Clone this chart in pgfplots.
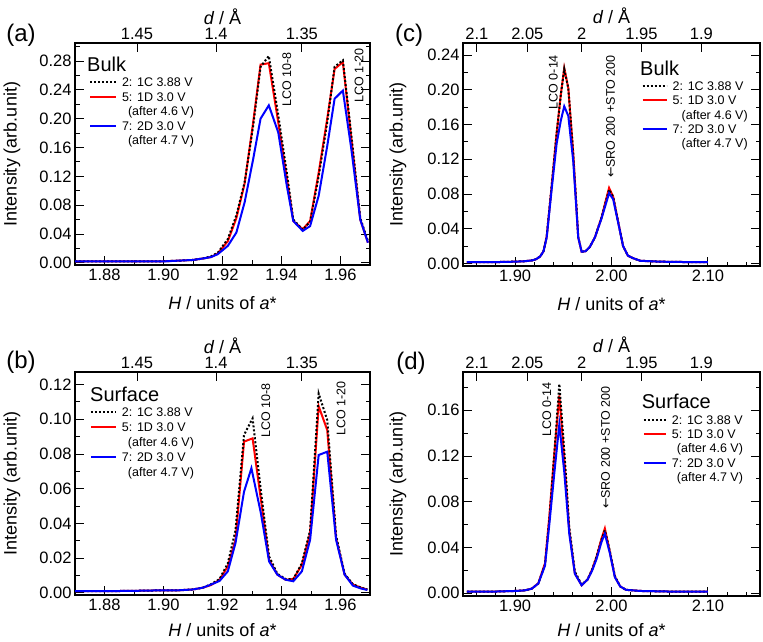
\documentclass[border=0pt]{standalone}
\usepackage{pgfplots}
\pgfplotsset{compat=1.18}
\usepackage{fontspec}
\setmainfont{Liberation Sans}
\newfontfamily\dejavu{DejaVu Sans}
\definecolor{myred}{RGB}{255,0,0}
\definecolor{myblue}{RGB}{0,0,255}
\tikzset{
  dotst/.style={black, line width=2pt, dash pattern=on 2pt off 2pt},
  redst/.style={myred, line width=2pt},
  bluest/.style={myblue, line width=2pt},
  annot/.style={rotate=90, font=\fontsize{12.5}{12.5}\selectfont, inner sep=0pt},
}
\pgfplotsset{
  base/.style={
    scale only axis, anchor=south west,
    axis line style={line width=1.1pt},
    tick align=inside,
    major tick length=9pt, minor tick length=4.5pt,
    every tick/.append style={black, line width=0.9pt},
    tick label style={font=\fontsize{16.5}{16.5}\selectfont},
    /pgf/number format/assume math mode=true,
    label style={font=\fontsize{18}{18}\selectfont},
  },
  panel/.style={
    base,
    xtick pos=left, ytick pos=both,
    xticklabel style={/pgf/number format/.cd, fixed, fixed zerofill, precision=2},
    yticklabel style={/pgf/number format/.cd, fixed, fixed zerofill, precision=2},
    xlabel={\textit{H} / units of \textit{a}*},
    ylabel={Intensity (arb.unit)},
    xlabel style={at={(axis description cs:0.5,-0.17)}, anchor=center},
    legend cell align=left,
    legend style={draw=none, fill=none, anchor=north west, inner sep=0pt, outer sep=0pt,
      column sep=5pt, font=\fontsize{12.5}{12.5}\selectfont,
      nodes={inner sep=0pt, text height=9pt, text depth=3pt}},
  },
  topax/.style={
    base, axis x line*=top, axis y line=none,
    ymin=0, ymax=1,
    xlabel={\textit{d} / Å},
    xlabel style={at={(axis description cs:0.5,1.12)}, anchor=center},
  },
}
\begin{document}
\begin{tikzpicture}
\path[use as bounding box] (0,0) rectangle (763pt,641pt);

% ---------------- (a) ----------------
\begin{axis}[panel, at={(75pt,376pt)}, width=295pt, height=222pt,
  xmin=1.87, xmax=1.97, ymin=-0.003, ymax=0.305,
  xtick={1.88,1.90,1.92,1.94,1.96}, minor xtick={1.87,1.89,1.91,1.93,1.95,1.97},
  ytick={0,0.04,0.08,0.12,0.16,0.20,0.24,0.28}, minor ytick={0.02,0.06,0.10,0.14,0.18,0.22,0.26,0.30},
  ylabel style={at={(axis description cs:-0.2136,0.5)}, anchor=center},
  legend image code/.code={\draw[#1] (0pt,1.5pt) -- (26pt,1.5pt);},
  legend style={at={(axis description cs:0.0475,0.8446)}, row sep=2.6pt}]
\addplot[redst, forget plot] coordinates {(1.870,0.002) (1.880,0.002) (1.890,0.002) (1.900,0.0022) (1.905,0.003) (1.910,0.004) (1.9133,0.006) (1.9161,0.008) (1.9184,0.013) (1.9218,0.030) (1.9247,0.062) (1.9275,0.110) (1.9304,0.195) (1.9329,0.275) (1.9357,0.277) (1.9389,0.195) (1.9418,0.118) (1.9440,0.058) (1.9472,0.0466) (1.9497,0.058) (1.9526,0.125) (1.9555,0.200) (1.9580,0.269) (1.9608,0.2785) (1.9636,0.175) (1.9667,0.060) (1.9693,0.028)};
\addplot[dotst, forget plot] coordinates {(1.870,0.002) (1.880,0.002) (1.890,0.002) (1.900,0.0022) (1.905,0.003) (1.910,0.004) (1.9133,0.006) (1.9161,0.009) (1.9184,0.014) (1.9218,0.033) (1.9247,0.066) (1.9275,0.112) (1.9304,0.190) (1.9329,0.272) (1.9357,0.287) (1.9389,0.205) (1.9418,0.125) (1.9440,0.060) (1.9472,0.046) (1.9497,0.057) (1.9526,0.120) (1.9555,0.195) (1.9580,0.272) (1.9608,0.281) (1.9636,0.180) (1.9667,0.062) (1.9693,0.030)};
\addplot[bluest, forget plot] coordinates {(1.870,0.002) (1.880,0.002) (1.890,0.002) (1.900,0.002) (1.905,0.003) (1.910,0.004) (1.9133,0.006) (1.9161,0.008) (1.9184,0.012) (1.9218,0.0235) (1.9247,0.042) (1.9275,0.084) (1.9304,0.144) (1.9329,0.200) (1.9357,0.2185) (1.9389,0.181) (1.9418,0.107) (1.9440,0.058) (1.9472,0.0443) (1.9497,0.051) (1.9526,0.093) (1.9555,0.162) (1.9580,0.2277) (1.9608,0.239) (1.9636,0.160) (1.9667,0.060) (1.9693,0.028)};
\addlegendimage{dotst}\addlegendentry{2: 1C 3.88 V}
\addlegendimage{redst}\addlegendentry{5: 1D 3.0 V}
\addlegendimage{empty legend}\addlegendentry{\hspace{6pt}(after 4.6 V)}
\addlegendimage{bluest}\addlegendentry{7: 2D 3.0 V}
\addlegendimage{empty legend}\addlegendentry{\hspace{6pt}(after 4.7 V)}
\node[annot] at (axis cs:1.9418,0.2547) {LCO 10-8};
\node[annot] at (axis cs:1.9663,0.2600) {LCO 1-20};
\end{axis}
\begin{axis}[topax, at={(75pt,376pt)}, width=295pt, height=222pt,
  xmin=1.87, xmax=1.97, xtick={1.8910,1.9178,1.9469}, xticklabels={1.45,1.4,1.35}]
\end{axis}

% ---------------- (c) ----------------
\begin{axis}[panel, at={(463pt,375pt)}, width=297pt, height=223pt,
  xmin=1.846, xmax=2.154, ymin=-0.003, ymax=0.254,
  xtick={1.90,2.00,2.10}, minor xtick={1.86,1.88,1.92,1.94,1.96,1.98,2.02,2.04,2.06,2.08,2.12,2.14},
  ytick={0,0.04,0.08,0.12,0.16,0.20,0.24}, minor ytick={0.02,0.06,0.10,0.14,0.18,0.22},
  ylabel style={at={(axis description cs:-0.219,0.5)}, anchor=center},
  legend image code/.code={\draw[#1] (0pt,1.5pt) -- (24pt,1.5pt);},
  legend style={at={(axis description cs:0.6017,0.8274)}, row sep=2.3pt}]
\addplot[redst, forget plot] coordinates {(1.850,0.0015) (1.880,0.0015) (1.900,0.002) (1.910,0.0025) (1.918,0.0035) (1.922,0.005) (1.926,0.008) (1.9295,0.014) (1.9328,0.031) (1.938,0.090) (1.9431,0.150) (1.9475,0.195) (1.951,0.225) (1.9552,0.202) (1.9603,0.127) (1.9655,0.030) (1.9690,0.0135) (1.9730,0.014) (1.9775,0.019) (1.9828,0.030) (1.9897,0.053) (1.9940,0.072) (1.9975,0.087) (2.0017,0.077) (2.0069,0.048) (2.0120,0.020) (2.0170,0.009) (2.0224,0.006) (2.0300,0.003) (2.0500,0.002) (2.0800,0.0015) (2.1000,0.0015)};
\addplot[dotst, forget plot] coordinates {(1.850,0.0015) (1.880,0.0015) (1.900,0.002) (1.910,0.0025) (1.918,0.0035) (1.922,0.005) (1.926,0.008) (1.9295,0.014) (1.9328,0.031) (1.938,0.090) (1.9431,0.150) (1.9475,0.195) (1.951,0.224) (1.9552,0.202) (1.9603,0.127) (1.9655,0.030) (1.9690,0.0135) (1.9730,0.014) (1.9775,0.019) (1.9828,0.030) (1.9897,0.053) (1.9940,0.071) (1.9975,0.085) (2.0017,0.077) (2.0069,0.048) (2.0120,0.020) (2.0170,0.009) (2.0224,0.006) (2.0300,0.003) (2.0500,0.002) (2.0800,0.0015) (2.1000,0.0015)};
\addplot[bluest, forget plot] coordinates {(1.850,0.0015) (1.880,0.0015) (1.900,0.002) (1.910,0.0025) (1.918,0.0035) (1.922,0.005) (1.926,0.008) (1.9295,0.014) (1.9328,0.030) (1.938,0.086) (1.9431,0.138) (1.9475,0.165) (1.951,0.181) (1.9552,0.170) (1.9603,0.118) (1.9655,0.030) (1.9690,0.0135) (1.9730,0.014) (1.9775,0.019) (1.9828,0.030) (1.9897,0.052) (1.9940,0.068) (1.9975,0.081) (2.0017,0.074) (2.0069,0.047) (2.0120,0.020) (2.0170,0.009) (2.0224,0.006) (2.0300,0.003) (2.0500,0.002) (2.0800,0.0015) (2.1000,0.0015)};
\addlegendimage{dotst}\addlegendentry{2: 1C 3.88 V}
\addlegendimage{redst}\addlegendentry{5: 1D 3.0 V}
\addlegendimage{empty legend}\addlegendentry{\hspace{9pt}(after 4.6 V)}
\addlegendimage{bluest}\addlegendentry{7: 2D 3.0 V}
\addlegendimage{empty legend}\addlegendentry{\hspace{9pt}(after 4.7 V)}
\node[annot] at (axis cs:1.9397,0.2089) {LCO 0-14};
\node[annot] at (axis cs:1.9990,0.1690) {{\dejavu ←}SRO 200 +STO 200};
\end{axis}
\begin{axis}[topax, at={(463pt,375pt)}, width=297pt, height=223pt,
  xmin=1.846, xmax=2.154, xtick={1.8604,1.9127,1.9690,2.0311,2.0932}, xticklabels={2.1,2.05,2,1.95,1.9}]
\end{axis}

% ---------------- (b) ----------------
\begin{axis}[panel, at={(75pt,46pt)}, width=295pt, height=223pt,
  xmin=1.87, xmax=1.97, ymin=-0.0012, ymax=0.1272,
  xtick={1.88,1.90,1.92,1.94,1.96}, minor xtick={1.87,1.89,1.91,1.93,1.95,1.97},
  ytick={0,0.02,0.04,0.06,0.08,0.10,0.12}, minor ytick={0.01,0.03,0.05,0.07,0.09,0.11},
  ylabel style={at={(axis description cs:-0.2136,0.5)}, anchor=center},
  xlabel style={at={(axis description cs:0.5,-0.158)}, anchor=center},
  legend image code/.code={\draw[#1] (0pt,1.5pt) -- (25pt,1.5pt);},
  legend style={at={(axis description cs:0.0508,0.841)}, row sep=3pt}]
\addplot[redst, forget plot] coordinates {(1.870,0.001) (1.880,0.001) (1.890,0.0012) (1.900,0.0015) (1.905,0.0015) (1.910,0.002) (1.9133,0.003) (1.9161,0.0045) (1.919,0.0076) (1.9218,0.0153) (1.9244,0.0306) (1.9273,0.0871) (1.9302,0.0890) (1.9330,0.054) (1.9358,0.0191) (1.9386,0.0105) (1.9414,0.0076) (1.9440,0.008) (1.9469,0.0162) (1.9497,0.0344) (1.9526,0.1075) (1.9555,0.0938) (1.9585,0.0316) (1.9614,0.0105) (1.9642,0.0048) (1.9670,0.003) (1.9691,0.0019)};
\addplot[dotst, forget plot] coordinates {(1.870,0.001) (1.880,0.001) (1.890,0.0012) (1.900,0.0015) (1.905,0.0015) (1.910,0.002) (1.9133,0.003) (1.9161,0.005) (1.919,0.008) (1.9218,0.017) (1.9244,0.036) (1.9273,0.091) (1.9302,0.1005) (1.9330,0.059) (1.9358,0.021) (1.9386,0.011) (1.9414,0.008) (1.9440,0.008) (1.9469,0.017) (1.9497,0.036) (1.9526,0.1148) (1.9555,0.0995) (1.9585,0.033) (1.9614,0.011) (1.9642,0.005) (1.9670,0.003) (1.9691,0.002)};
\addplot[bluest, forget plot] coordinates {(1.870,0.001) (1.880,0.001) (1.890,0.0012) (1.900,0.0015) (1.905,0.0015) (1.910,0.002) (1.9133,0.003) (1.9161,0.0048) (1.919,0.0069) (1.9218,0.0124) (1.9244,0.0287) (1.9273,0.0583) (1.9298,0.0718) (1.9330,0.0460) (1.9358,0.0181) (1.9386,0.0105) (1.9414,0.0076) (1.9440,0.0067) (1.9469,0.0124) (1.9497,0.0306) (1.9526,0.0794) (1.9555,0.0813) (1.9585,0.0306) (1.9614,0.0105) (1.9642,0.0042) (1.9670,0.0025) (1.9691,0.0017)};
\addlegendimage{dotst}\addlegendentry{2: 1C 3.88 V}
\addlegendimage{redst}\addlegendentry{5: 1D 3.0 V}
\addlegendimage{empty legend}\addlegendentry{\hspace{6pt}(after 4.6 V)}
\addlegendimage{bluest}\addlegendentry{7: 2D 3.0 V}
\addlegendimage{empty legend}\addlegendentry{\hspace{6pt}(after 4.7 V)}
\node[annot] at (axis cs:1.9347,0.1052) {LCO 10-8};
\node[annot] at (axis cs:1.9602,0.1061) {LCO 1-20};
\end{axis}
\begin{axis}[topax, at={(75pt,46pt)}, width=295pt, height=223pt,
  xmin=1.87, xmax=1.97, xtick={1.8910,1.9178,1.9469}, xticklabels={1.45,1.4,1.35}]
\end{axis}

% ---------------- (d) ----------------
\begin{axis}[panel, at={(463pt,45pt)}, width=297pt, height=224pt,
  xmin=1.846, xmax=2.154, ymin=-0.0024, ymax=0.1934,
  xtick={1.90,2.00,2.10}, minor xtick={1.86,1.88,1.92,1.94,1.96,1.98,2.02,2.04,2.06,2.08,2.12,2.14},
  ytick={0,0.04,0.08,0.12,0.16}, minor ytick={0.02,0.06,0.10,0.14,0.18},
  ylabel style={at={(axis description cs:-0.219,0.5)}, anchor=center},
  xlabel style={at={(axis description cs:0.5,-0.153)}, anchor=center},
  legend image code/.code={\draw[#1] (0pt,1.5pt) -- (22pt,1.5pt);},
  legend style={at={(axis description cs:0.606,0.808)}, row sep=2.4pt}]
\addplot[redst, forget plot] coordinates {(1.850,0.0015) (1.880,0.0015) (1.900,0.002) (1.910,0.0025) (1.9173,0.004) (1.9241,0.0087) (1.9310,0.026) (1.9355,0.0668) (1.9407,0.122) (1.9459,0.173) (1.9510,0.118) (1.9562,0.055) (1.9620,0.0174) (1.9690,0.007) (1.9752,0.012) (1.9800,0.021) (1.9845,0.032) (1.9897,0.048) (1.9931,0.0567) (1.9983,0.036) (2.0035,0.0145) (2.0090,0.006) (2.0150,0.003) (2.0300,0.002) (2.0600,0.0015) (2.1000,0.0015)};
\addplot[dotst, forget plot] coordinates {(1.850,0.0015) (1.880,0.0015) (1.900,0.002) (1.910,0.0025) (1.9173,0.004) (1.9241,0.0085) (1.9310,0.025) (1.9355,0.064) (1.9407,0.122) (1.9459,0.183) (1.9510,0.125) (1.9562,0.058) (1.9620,0.019) (1.9690,0.0075) (1.9752,0.012) (1.9800,0.021) (1.9845,0.032) (1.9897,0.047) (1.9931,0.055) (1.9983,0.037) (2.0035,0.015) (2.0090,0.006) (2.0150,0.003) (2.0300,0.002) (2.0600,0.0015) (2.1000,0.0015)};
\addplot[bluest, forget plot] coordinates {(1.850,0.0015) (1.880,0.0015) (1.900,0.002) (1.910,0.0025) (1.9173,0.004) (1.9241,0.0085) (1.9310,0.024) (1.9355,0.060) (1.9407,0.105) (1.9459,0.1477) (1.9510,0.106) (1.9562,0.052) (1.9620,0.017) (1.9690,0.007) (1.9752,0.012) (1.9800,0.020) (1.9845,0.030) (1.9897,0.045) (1.9931,0.052) (1.9983,0.035) (2.0035,0.014) (2.0090,0.006) (2.0150,0.003) (2.0300,0.002) (2.0600,0.0015) (2.1000,0.0015)};
\addlegendimage{dotst}\addlegendentry{2: 1C 3.88 V}
\addlegendimage{redst}\addlegendentry{5: 1D 3.0 V}
\addlegendimage{empty legend}\addlegendentry{\hspace{5pt}(after 4.6 V)}
\addlegendimage{bluest}\addlegendentry{7: 2D 3.0 V}
\addlegendimage{empty legend}\addlegendentry{\hspace{5pt}(after 4.7 V)}
\node[annot] at (axis cs:1.9328,0.1608) {LCO 0-14};
\node[annot] at (axis cs:1.9938,0.1272) {{\dejavu ←}SRO 200 +STO 200};
\end{axis}
\begin{axis}[topax, at={(463pt,45pt)}, width=297pt, height=224pt,
  xmin=1.846, xmax=2.154, xtick={1.8604,1.9127,1.9690,2.0311,2.0932}, xticklabels={2.1,2.05,2,1.95,1.9}]
\end{axis}

% ---------------- free text ----------------
\node[font=\fontsize{24}{24}\selectfont, inner sep=0pt] at (21pt,606pt) {(a)};
\node[font=\fontsize{24}{24}\selectfont, inner sep=0pt] at (409pt,606pt) {(c)};
\node[font=\fontsize{24}{24}\selectfont, inner sep=0pt] at (21pt,279pt) {(b)};
\node[font=\fontsize{24}{24}\selectfont, inner sep=0pt] at (411pt,278pt) {(d)};
\node[font=\fontsize{20}{20}\selectfont, inner sep=0pt, anchor=west] at (87pt,576.5pt) {Bulk};
\node[font=\fontsize{20}{20}\selectfont, inner sep=0pt, anchor=west] at (640pt,572.5pt) {Bulk};
\node[font=\fontsize{20}{20}\selectfont, inner sep=0pt, anchor=west] at (90pt,247pt) {Surface};
\node[font=\fontsize{20}{20}\selectfont, inner sep=0pt, anchor=west] at (641.7pt,240pt) {Surface};
\end{tikzpicture}
\end{document}
